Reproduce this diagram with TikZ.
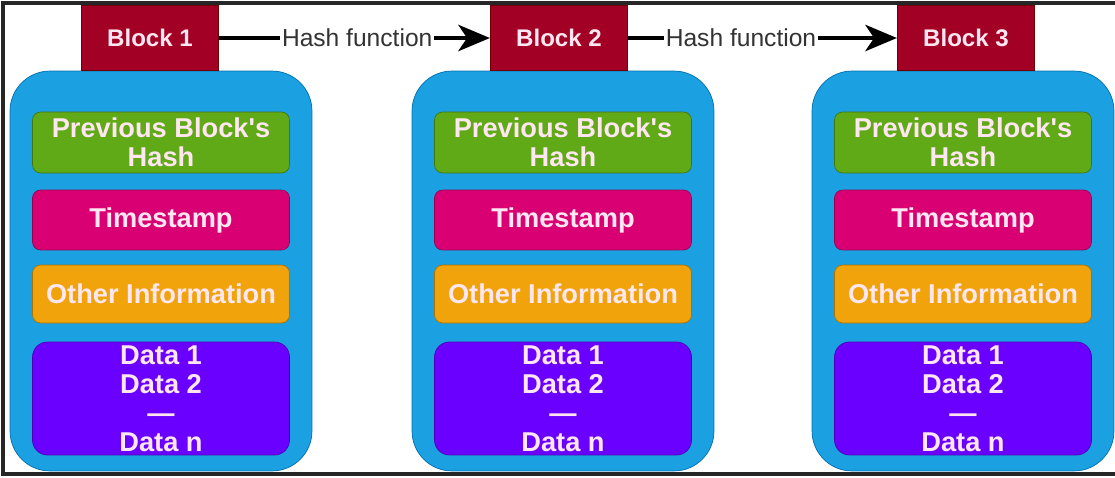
\documentclass[tikz,border=0pt]{standalone}
\usepackage{fontspec}
\setmainfont{Liberation Sans}[Ligatures=TeXOff]
\usetikzlibrary{arrows.meta}
\definecolor{headred}{HTML}{A20025}
\definecolor{headline}{HTML}{6F0000}
\definecolor{chainblue}{HTML}{1BA1E2}
\definecolor{chainline}{HTML}{006EAF}
\definecolor{hashgreen}{HTML}{60A917}
\definecolor{timepink}{HTML}{D80073}
\definecolor{infoorange}{HTML}{F0A30A}
\definecolor{datapurple}{HTML}{6A00FF}
\definecolor{textpink}{HTML}{FFE6F0}
\tikzset{
  blockhead/.style={draw=headline, fill=headred, text=textpink, font=\fontsize{13.7}{16}\selectfont\bfseries,
    minimum width=2.75cm, minimum height=1.3cm, inner sep=0pt},
  chainbox/.style={draw=chainline, fill=chainblue, rounded corners=0.8cm,
    minimum width=6.04cm, minimum height=8cm, inner sep=0pt},
  field/.style={draw=#1!70!black, fill=#1, rounded corners=0.16cm, text=textpink,
    font=\fontsize{15.5}{16.5}\selectfont\bfseries, align=center,
    minimum width=5.14cm, inner sep=0pt},
  hasharrow/.style={line width=2.3pt, -{Stealth[length=18pt, width=15pt, inset=5pt]}},
  hashlabel/.style={fill=white, inner sep=1pt, font=\fontsize{14}{16}\selectfont, text=black!80}
}
\begin{document}
\begin{tikzpicture}[x=0.02cm, y=-0.02cm]
\useasboundingbox (0,0) rectangle (1115,477);
\foreach \i/\x/\hx in {1/161/150, 2/563/559, 3/963/966} {
  \node[chainbox] (chain\i) at (\x,271) {};
  \node[blockhead] (head\i) at (\hx,38) {Block \i};
  \node[field=hashgreen, minimum height=1.22cm] (prev\i) at (\x,142.5) {Previous Block's\\Hash};
  \node[field=timepink, minimum height=1.2cm] (time\i) at (\x,220) {Timestamp};
  \node[field=infoorange, minimum height=1.16cm] (info\i) at (\x,294) {Other Information};
  \node[field=datapurple, minimum height=2.26cm, rounded corners=0.3cm] (data\i) at (\x,398.5)
    {Data 1\\Data 2\\—\\Data n};
}
% links between the blocks
\draw[hasharrow] (head1) -- node[hashlabel, pos=0.51] {Hash function} (head2);
\draw[hasharrow] (head2) -- node[hashlabel, pos=0.42] {Hash function} (head3);
% outer frame
\draw[line width=2.8pt, black!85] (1115,3) -- (3,3) -- (3,474) -- (1115,474);
\end{tikzpicture}
\end{document}
